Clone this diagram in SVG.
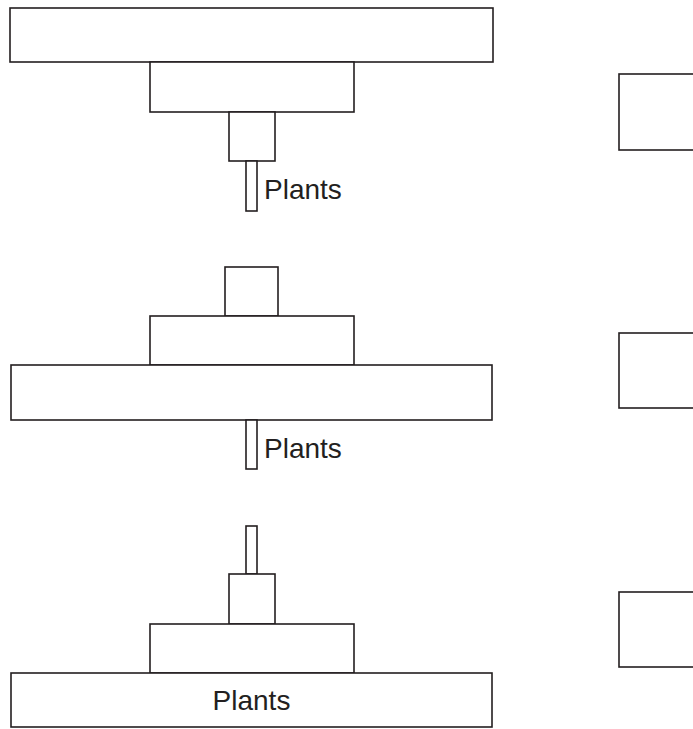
<svg xmlns="http://www.w3.org/2000/svg" width="693" height="729" viewBox="0 0 693 729">
<style>
rect{fill:#fff;stroke:#231f20;stroke-width:1.6}
text{font-family:"Liberation Sans",Arial,sans-serif;font-size:28px;fill:#231f20}
</style>
<rect x="0" y="0" width="693" height="729" style="stroke:none"/>
<g id="diagram1">
<rect x="10" y="8" width="483" height="54"/>
<rect x="150" y="62" width="204" height="50"/>
<rect x="229" y="112" width="46" height="49"/>
<rect x="246" y="161" width="11" height="50"/>
<text x="264" y="199">Plants</text>
</g>
<g id="diagram2">
<rect x="225" y="267" width="53" height="49"/>
<rect x="150" y="316" width="204" height="49"/>
<rect x="11" y="365" width="481" height="55"/>
<rect x="246" y="420" width="11" height="49"/>
<text x="264" y="458">Plants</text>
</g>
<g id="diagram3">
<rect x="246" y="526" width="11" height="48"/>
<rect x="229" y="574" width="46" height="50"/>
<rect x="150" y="624" width="204" height="49"/>
<rect x="11" y="673" width="481" height="54"/>
<text x="251.5" y="710" text-anchor="middle">Plants</text>
</g>
<g id="box1"><rect x="619" y="74" width="90" height="76"/></g>
<g id="box2"><rect x="619" y="333" width="90" height="75"/></g>
<g id="box3"><rect x="619" y="592" width="90" height="75"/></g>
<g id="connectors"></g>
</svg>
